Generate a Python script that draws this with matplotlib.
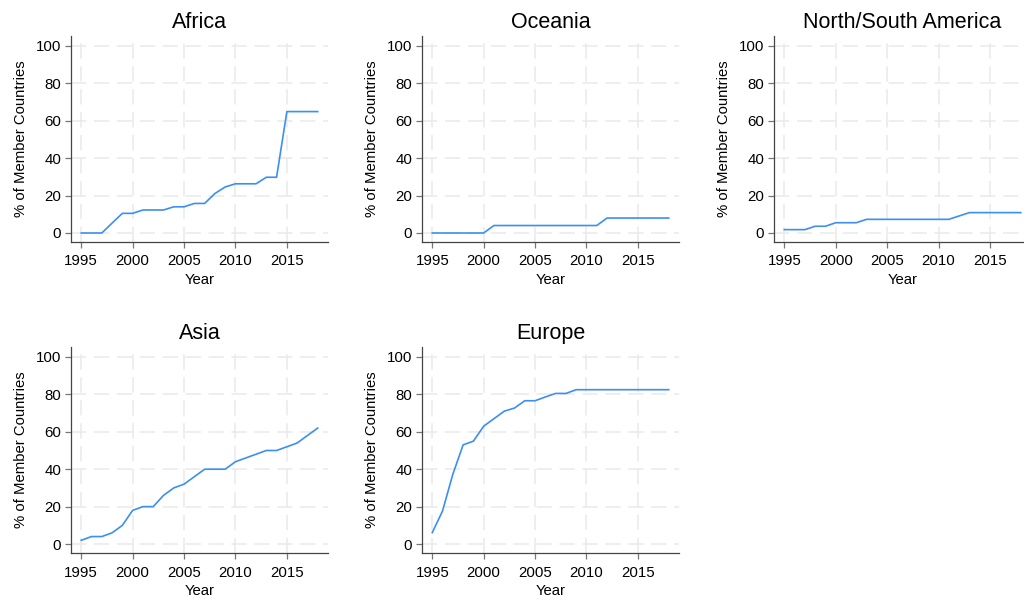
import matplotlib
matplotlib.use("Agg")
import matplotlib.pyplot as plt

plt.rcParams['font.family'] = ['Liberation Sans', 'DejaVu Sans']

years = list(range(1995, 2019))

africa = [0, 0, 0, 5.3, 10.5, 10.5, 12.3, 12.3, 12.3, 14.0, 14.0, 15.8, 15.8,
          21.1, 24.6, 26.3, 26.3, 26.3, 29.8, 29.8, 64.9, 64.9, 64.9, 64.9]
oceania = [0, 0, 0, 0, 0, 0, 4, 4, 4, 4, 4, 4, 4, 4, 4, 4, 4, 8, 8, 8, 8, 8, 8, 8]
americas = [1.8, 1.8, 1.8, 3.6, 3.6, 5.5, 5.5, 5.5, 7.3, 7.3, 7.3, 7.3, 7.3,
            7.3, 7.3, 7.3, 7.3, 9.1, 10.9, 10.9, 10.9, 10.9, 10.9, 10.9]
asia = [2, 4, 4, 6, 10, 18, 20, 20, 26, 30, 32, 36, 40, 40, 40, 44, 46, 48,
        50, 50, 52, 54, 58, 62]
europe = [6.1, 17.7, 37.3, 53, 55, 63, 67, 71, 72.7, 76.6, 76.6, 78.6, 80.5,
          80.5, 82.5, 82.5, 82.5, 82.5, 82.5, 82.5, 82.5, 82.5, 82.5, 82.5]

panels = [
    ("Africa", africa, [0.0693, 0.5967, 0.251, 0.3433]),
    ("Oceania", oceania, [0.4121, 0.5967, 0.251, 0.3433]),
    ("North/South America", americas, [0.7559, 0.5967, 0.251, 0.3433]),
    ("Asia", asia, [0.0693, 0.0783, 0.251, 0.3433]),
    ("Europe", europe, [0.4121, 0.0783, 0.251, 0.3433]),
]

xticks = [1995, 2000, 2005, 2010, 2015]
yticks = [0, 20, 40, 60, 80, 100]
line_color = '#3B8FF3'

fig = plt.figure(figsize=(10.24, 6.0), dpi=100)

for title, values, rect in panels:
    ax = fig.add_axes(rect)
    ax.plot(years, values, color=line_color, lw=1.2, solid_joinstyle='round')
    ax.set_xlim(1994, 2019)
    ax.set_ylim(-4.8, 105.3)
    ax.set_xticks(xticks)
    ax.set_yticks(yticks)
    ax.grid(True, color='#e9e9e9', lw=1.1, linestyle=(0, (10, 5)))
    ax.set_axisbelow(True)
    for side in ('top', 'right'):
        ax.spines[side].set_visible(False)
    for side in ('left', 'bottom'):
        ax.spines[side].set_color('#444444')
        ax.spines[side].set_linewidth(0.9)
    ax.tick_params(axis='both', direction='out', length=4, width=0.9,
                   color='#777777', labelsize=10.8, labelcolor='black')
    ax.tick_params(axis='x', pad=5)
    ax.tick_params(axis='y', pad=3)
    ax.set_title(title, fontsize=15.5, pad=6)
    ax.set_xlabel("Year", fontsize=10.7, labelpad=3)
    ax.set_ylabel("% of Member Countries", fontsize=10.7, labelpad=6)

fig.savefig("out.png", dpi=100, facecolor='white')
